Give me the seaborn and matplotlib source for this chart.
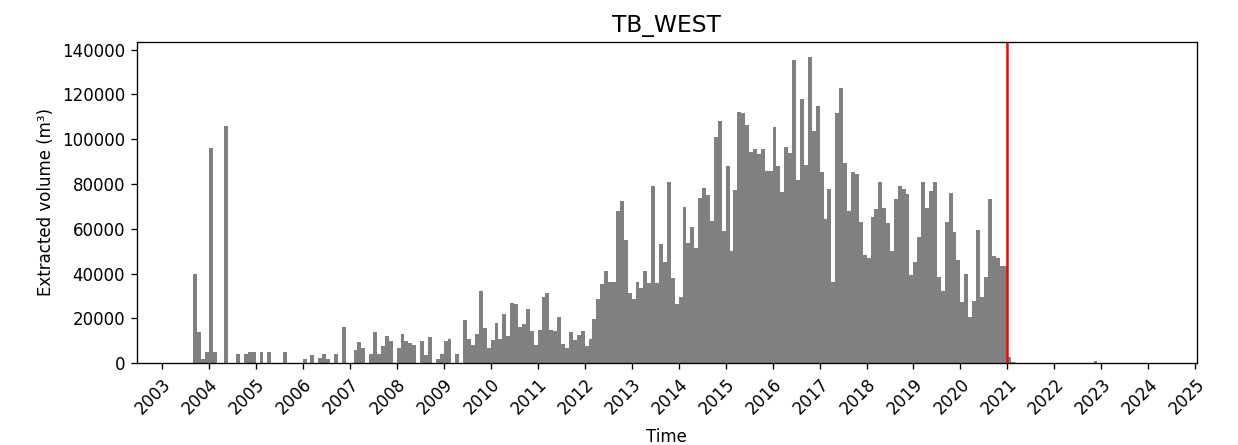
import matplotlib
matplotlib.use("Agg")
import matplotlib.pyplot as plt
import matplotlib.dates as mdates
import numpy as np
import pandas as pd
import seaborn as sns
from datetime import datetime

# Monthly extracted volume (m³), one value per calendar month starting at first_month
first_month = "2003-06"
volumes = [
    # 2003 (Jun-Dec)
    0, 0, 0, 39700, 13800, 1800, 5200,
    # 2004
    96100, 5200, 0, 0, 105800, 0, 0, 4200, 0, 4200, 5200, 5200,
    # 2005
    0, 5200, 0, 5200, 0, 0, 0, 5200, 0, 0, 0, 0,
    # 2006
    1800, 0, 3700, 0, 2200, 4200, 1800, 0, 4200, 0, 16000, 0,
    # 2007
    0, 5900, 9400, 7000, 0, 4200, 13800, 4200, 7700, 12000, 10000, 0,
    # 2008
    7000, 13200, 9800, 8900, 8200, 0, 9800, 3700, 11900, 0, 1800, 4200,
    # 2009
    9800, 10800, 0, 4200, 0, 19300, 10800, 8200, 13200, 32200, 15600, 7000,
    # 2010
    10400, 17800, 10850, 21800, 12200, 27000, 26300, 16200, 17400, 24400, 14400, 8300,
    # 2011
    14900, 29700, 31500, 14900, 14600, 20500, 8600, 6700, 13800, 10400, 12800, 14400,
    # 2012
    7700, 10800, 19600, 28800, 35400, 41300, 36100, 36400, 68100, 72500, 55000, 31200,
    # 2013
    28800, 36100, 33400, 41300, 35700, 79100, 35700, 53200, 45300, 80700, 37900, 26500,
    # 2014
    29700, 69800, 53800, 60600, 51300, 73900, 78300, 74900, 63600, 100800, 108200, 59100,
    # 2015
    88000, 50100, 77300, 112200, 111500, 106400, 94200, 95600, 93200, 95700, 85900, 85900,
    # 2016
    105500, 88000, 76400, 96600, 93900, 135500, 81900, 118100, 88300, 136700, 103700, 114700,
    # 2017
    85200, 64600, 77700, 36100, 111500, 122900, 89200, 68100, 85200, 84300, 63200, 48300,
    # 2018
    47100, 65100, 68700, 81000, 69100, 62400, 50100, 73100, 79100, 77600, 75500, 39400,
    # 2019
    45300, 56200, 81000, 69100, 76800, 81000, 38300, 32300, 62900, 76200, 58700, 46100,
    # 2020
    27500, 39700, 20500, 27800, 59400, 29400, 38300, 73100, 48000, 47100, 43400, 43400,
    # 2021
    3000, 500, 0, 0, 0, 0, 0, 0, 0, 0, 0, 0,
    # 2022
    0, 0, 0, 0, 0, 0, 0, 0, 0, 0, 1000, 0,
    # 2023
    0, 0, 0, 0, 0, 0, 0, 0, 0, 0, 0, 0,
]
cutoff_date = datetime(2021, 1, 1)
chart_title = "TB_WEST"
x_label = "Time"
y_label = "Extracted volume (m³)"

# Month bins: each bar spans one calendar month
edges = pd.date_range(first_month, periods=len(volumes) + 1, freq="MS")
edge_nums = mdates.date2num(edges.to_pydatetime())
frame = pd.DataFrame({
    "month_mid": (edge_nums[:-1] + edge_nums[1:]) / 2,
    "volume": volumes,
})

fig = plt.figure(figsize=(1238 / 120, 445 / 120), dpi=120)
ax = fig.add_axes([0.1104, 0.1836, 0.9667 - 0.1104, 0.9063 - 0.1836])

sns.histplot(
    data=frame,
    x="month_mid",
    weights="volume",
    bins=list(edge_nums),
    color="gray",
    alpha=1,
    linewidth=0,
    ax=ax,
)

ax.axvline(mdates.date2num(cutoff_date), color="red", linewidth=1.5)

ax.set_xlim(mdates.date2num(datetime(2002, 6, 19)), mdates.date2num(datetime(2025, 1, 12)))
ax.set_ylim(0, 143500)
ax.xaxis.set_major_locator(mdates.YearLocator(1))
ax.xaxis.set_major_formatter(mdates.DateFormatter("%Y"))
plt.setp(ax.get_xticklabels(), rotation=45, ha="right", rotation_mode="anchor")

ax.set_title(chart_title, fontsize=14)
ax.set_xlabel(x_label, labelpad=6)
ax.set_ylabel(y_label)

fig.savefig("out.png", dpi=120)
